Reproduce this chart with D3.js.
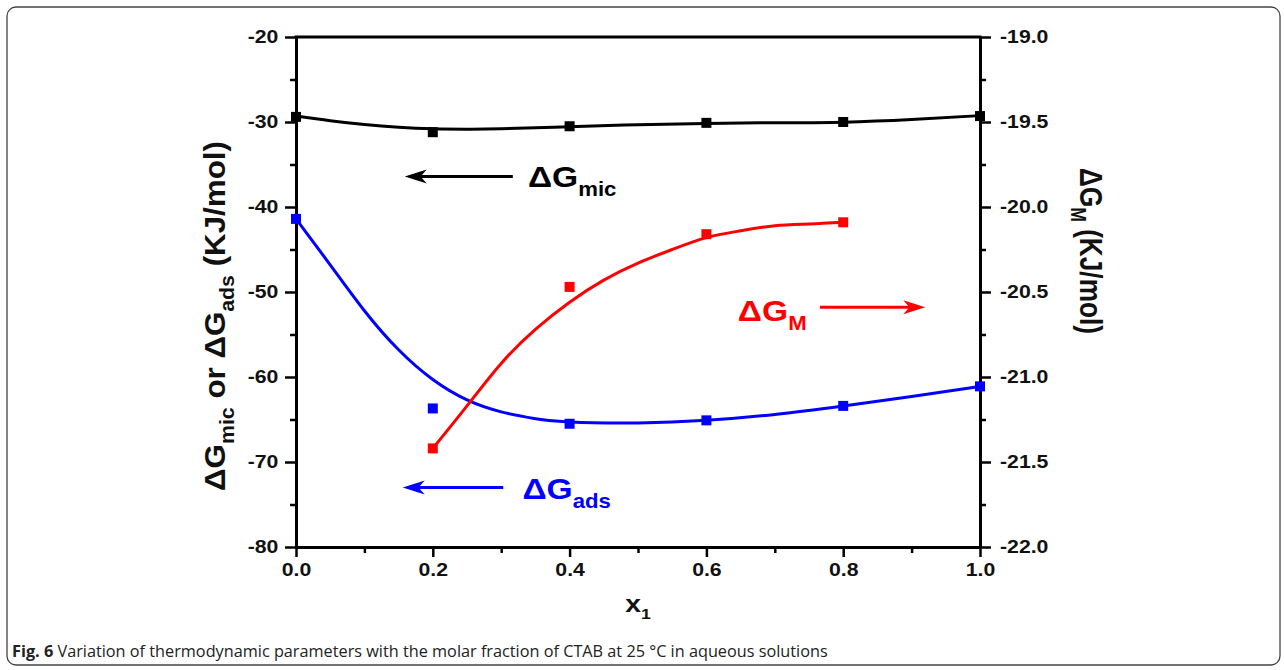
<!DOCTYPE html>
<html>
<head>
<meta charset="utf-8">
<script src="https://cdn.jsdelivr.net/npm/d3@7"></script>
<style>
  body { margin: 0; background: #fff; }
  svg { display: block; }
</style>
</head>
<body>
<svg id="chart" width="1284" height="670"></svg>
<script>
const width = 1284, height = 670;
const plot = {left: 296, right: 980, top: 37, bottom: 547};
const sx = 1.18;   // the figure is stretched a bit horizontally
const font = "'Liberation Sans', Arial, sans-serif";

// ---------------- data ----------------
const x_values = [0.0, 0.2, 0.4, 0.6, 0.8, 1.0];
const g_mic = [-29.4, -31.2, -30.5, -30.1, -30.0, -29.3];
const g_ads = [-41.4, -63.7, -65.5, -65.1, -63.4, -61.1];
const gm_x = [0.2, 0.4, 0.6, 0.8];
const g_m = [-21.42, -20.47, -20.16, -20.09];

// fitted curves
const fit_mic_x = [0, 0.05, 0.1, 0.15, 0.2, 0.25, 0.3, 0.4, 0.5, 0.6, 0.7, 0.8, 0.9, 1.0];
const fit_mic = [-29.3, -29.85, -30.3, -30.62, -30.8, -30.85, -30.8, -30.55, -30.32, -30.17, -30.09, -30.02, -29.72, -29.25];
const fit_ads_x = [0, 0.05, 0.1, 0.15, 0.2, 0.25, 0.3, 0.35, 0.4, 0.5, 0.6, 0.7, 0.8, 0.9, 1.0];
const fit_ads = [-41.4, -46.8, -52.2, -56.8, -60.3, -62.7, -64.1, -64.9, -65.3, -65.4, -65.1, -64.4, -63.4, -62.3, -61.1];
const fit_m_x = [0.2, 0.25, 0.3, 0.35, 0.4, 0.45, 0.5, 0.55, 0.6, 0.65, 0.7, 0.75, 0.8];
const fit_m = [-21.42, -21.17, -20.92, -20.72, -20.56, -20.43, -20.33, -20.25, -20.18, -20.14, -20.11, -20.1, -20.09];

const x_ticks = [0, 0.2, 0.4, 0.6, 0.8, 1.0];
const x_minor = [0.1, 0.3, 0.5, 0.7, 0.9];
const yl_ticks = [-80, -70, -60, -50, -40, -30, -20];
const yl_minor = [-75, -65, -55, -45, -35, -25];
const yr_ticks = [-22, -21.5, -21, -20.5, -20, -19.5, -19];
const yr_minor = [-21.75, -21.25, -20.75, -20.25, -19.75, -19.25];

const caption_bold = "Fig. 6";
const caption_rest = " Variation of thermodynamic parameters with the molar fraction of CTAB at 25 \u00B0C in aqueous solutions";

// ---------------- scales ----------------
const svg = d3.select('#chart');
const x = d3.scaleLinear().domain([0, 1]).range([plot.left, plot.right]);
const yL = d3.scaleLinear().domain([-80, -20]).range([plot.bottom, plot.top]);
const yR = d3.scaleLinear().domain([-22, -19]).range([plot.bottom, plot.top]);

// outer frame
svg.append('rect')
  .attr('x', 7).attr('y', 7)
  .attr('width', width - 11).attr('height', height - 12)
  .attr('rx', 9)
  .attr('fill', 'none')
  .attr('stroke', '#444')
  .attr('stroke-width', 1.3);

// ---------------- axes ----------------
function style_axis(g, label_size) {
  g.select('.domain').attr('stroke-width', 3);
  g.selectAll('.tick line').attr('stroke-width', 2.5);
  g.selectAll('.tick text')
    .style('font-family', font)
    .style('font-weight', 'bold')
    .style('font-size', label_size + 'px')
    .attr('fill', '#111')
    .attr('transform', `scale(${sx},1)`);
}
function minor(g) {
  g.select('.domain').remove();
  g.selectAll('.tick line').attr('stroke-width', 2.5);
}

svg.append('g')
  .attr('transform', `translate(0,${plot.bottom})`)
  .call(d3.axisBottom(x).tickValues(x_ticks).tickSize(10).tickSizeOuter(0).tickPadding(6)
    .tickFormat(d => d.toFixed(1)))
  .call(style_axis, 18);
svg.append('g')
  .attr('transform', `translate(0,${plot.bottom})`)
  .call(d3.axisBottom(x).tickValues(x_minor).tickSize(6).tickFormat(''))
  .call(minor);

svg.append('g')
  .attr('transform', `translate(${plot.left},0)`)
  .call(d3.axisLeft(yL).tickValues(yl_ticks).tickSize(11).tickSizeOuter(0).tickPadding(4)
    .tickFormat(d => d.toFixed(0)))
  .call(style_axis, 18);
svg.append('g')
  .attr('transform', `translate(${plot.left},0)`)
  .call(d3.axisLeft(yL).tickValues(yl_minor).tickSize(6).tickFormat(''))
  .call(minor);

svg.append('g')
  .attr('transform', `translate(${plot.right},0)`)
  .call(d3.axisRight(yR).tickValues(yr_ticks).tickSize(11).tickSizeOuter(0).tickPadding(6)
    .tickFormat(d => d.toFixed(1)))
  .call(style_axis, 18);
svg.append('g')
  .attr('transform', `translate(${plot.right},0)`)
  .call(d3.axisRight(yR).tickValues(yr_minor).tickSize(6).tickFormat(''))
  .call(minor);

// top border
svg.append('line')
  .attr('x1', x(0) - 1.5).attr('x2', x(1) + 1.5)
  .attr('y1', yL(-20)).attr('y2', yL(-20))
  .attr('stroke', '#000').attr('stroke-width', 3);

// ---------------- series ----------------
const series = [
  {color: '#000000', y: yL, px: x_values, py: g_mic, fx: fit_mic_x, fy: fit_mic},
  {color: '#0000ff', y: yL, px: x_values, py: g_ads, fx: fit_ads_x, fy: fit_ads},
  {color: '#ff0000', y: yR, px: gm_x, py: g_m, fx: fit_m_x, fy: fit_m},
];
const marker = 10;

series.forEach(s => {
  const line = d3.line()
    .curve(d3.curveNatural)
    .x(i => x(s.fx[i]))
    .y(i => s.y(s.fy[i]));
  svg.append('path')
    .attr('d', line(d3.range(s.fx.length)))
    .attr('fill', 'none')
    .attr('stroke', s.color)
    .attr('stroke-width', 3);

  svg.append('g')
    .selectAll('rect')
    .data(d3.range(s.px.length))
    .enter().append('rect')
    .attr('x', i => x(s.px[i]) - marker / 2)
    .attr('y', i => s.y(s.py[i]) - marker / 2)
    .attr('width', marker)
    .attr('height', marker)
    .attr('fill', s.color);
});

// ---------------- annotations ----------------
function arrow(g, x1, x2, y, color) {
  // shaft from x1 towards head at x2
  const dir = Math.sign(x2 - x1);
  const head = 22;
  g.append('line')
    .attr('x1', x1).attr('x2', x2 - dir * head * 0.6)
    .attr('y1', y).attr('y2', y)
    .attr('stroke', color).attr('stroke-width', 3);
  g.append('path')
    .attr('d', `M${x2},${y} L${x2 - dir * head},${y - 7} L${x2 - dir * head * 0.72},${y} L${x2 - dir * head},${y + 7} Z`)
    .attr('fill', color);
}

function delta_label(g, px, py, sub, color, size) {
  const t = g.append('text')
    .attr('transform', `translate(${px},${py}) scale(1.12,1)`)
    .style('font-family', font)
    .style('font-weight', 'bold')
    .style('font-size', size + 'px')
    .attr('fill', color);
  t.append('tspan').text('\u0394G');
  t.append('tspan').attr('dy', size * 0.3).style('font-size', (size * 0.66) + 'px').text(sub);
  return t;
}

const notes = svg.append('g');
arrow(notes, x(0.317), x(0.159), yL(-36.4), '#000');
delta_label(notes, x(0.339), yL(-37.7), 'mic', '#000', 30);

arrow(notes, x(0.303), x(0.156), yL(-73.0), '#0000ff');
delta_label(notes, x(0.331), yL(-74.4), 'ads', '#0000ff', 30);

arrow(notes, x(0.766), x(0.92), yR(-20.59), '#ff0000');
delta_label(notes, x(0.646), yR(-20.67), 'M', '#ff0000', 30);

// ---------------- axis titles ----------------
// rotated titles: fit along the text direction to the length seen in the picture
function fit_rotated(t, cx, cy, angle, target) {
  const len = t.node().getComputedTextLength();
  t.attr('transform', `translate(${cx},${cy}) scale(${sx},1) rotate(${angle}) scale(${target / len},1)`);
}

const left_title = svg.append('text')
  .attr('text-anchor', 'middle')
  .style('font-family', font)
  .style('font-weight', 'bold')
  .style('font-size', '25px')
  .attr('fill', '#111');
left_title.append('tspan').text('\u0394G');
left_title.append('tspan').attr('dy', 8).style('font-size', '17px').text('mic');
left_title.append('tspan').attr('dy', -8).text(' or \u0394G');
left_title.append('tspan').attr('dy', 8).style('font-size', '17px').text('ads');
left_title.append('tspan').attr('dy', -8).text(' (KJ/mol)');
fit_rotated(left_title, 225, 316, -90, 350);

const right_title = svg.append('text')
  .attr('text-anchor', 'middle')
  .style('font-family', font)
  .style('font-weight', 'bold')
  .style('font-size', '27px')
  .attr('fill', '#111');
right_title.append('tspan').text('\u0394G');
right_title.append('tspan').attr('dy', 8).style('font-size', '18px').text('M');
right_title.append('tspan').attr('dy', -8).text(' (KJ/mol)');
fit_rotated(right_title, 1080, 251, 90, 166);

const x_title = svg.append('text')
  .attr('transform', `translate(${x(0.5)},612) scale(${sx},1)`)
  .attr('text-anchor', 'middle')
  .style('font-family', font)
  .style('font-weight', 'bold')
  .style('font-size', '24px')
  .attr('fill', '#111');
x_title.append('tspan').text('x');
x_title.append('tspan').attr('dy', 7).style('font-size', '15px').text('1');

// ---------------- caption ----------------
const caption = svg.append('text')
  .attr('x', 0).attr('y', 0)
  .style('font-family', "'Open Sans', 'Noto Sans', sans-serif")
  .style('font-size', '16px')
  .attr('fill', '#222');
caption.append('tspan').style('font-weight', 'bold').text(caption_bold);
caption.append('tspan').text(caption_rest);
const cap_len = caption.node().getComputedTextLength();
caption.attr('transform', `translate(12,657) scale(${816 / cap_len},1)`);
</script>
</body>
</html>
